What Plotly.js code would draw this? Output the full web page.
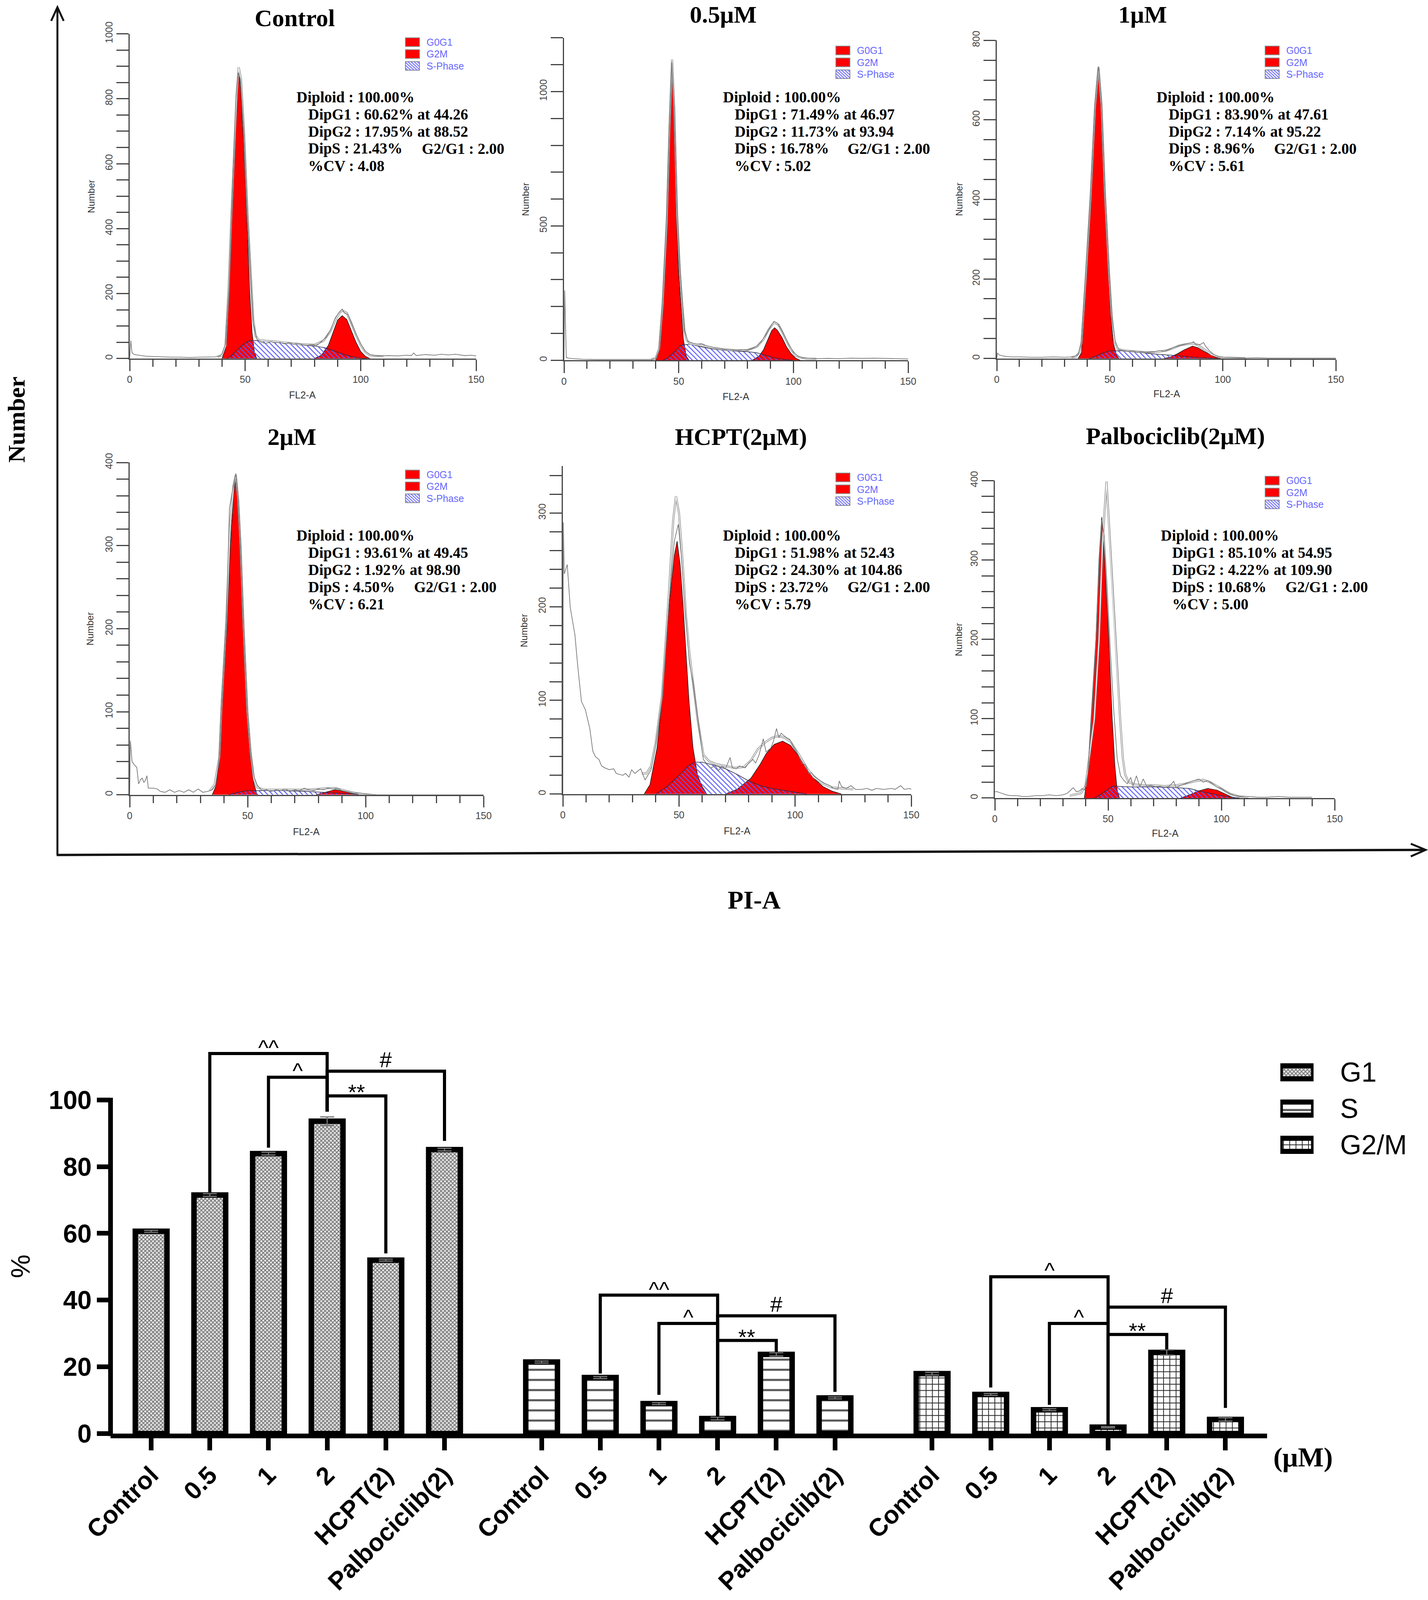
<!DOCTYPE html>
<html><head><meta charset="utf-8">
<script src="https://cdn.plot.ly/plotly-3.0.1.min.js"></script>
<style>html,body{margin:0;padding:0;background:#fff;overflow:hidden}</style>
</head><body><div id="chart"></div>
<script>
// ================= HISTOGRAM DATA =================
// Control
const ctrlG1 = [[40,0],[41.5,30],[42.7,200],[44,420],[45,600],[46.3,800],[47.2,890],[48,830],[49,700],[49.7,600],[51,380],[52,200],[53,80],[54,20],[55,0]];
const ctrlG2 = [[80,0],[83,10],[86,40],[88,80],[90,118],[92,132],[94,120],[96,85],[98,50],[100,22],[102,7],[104,0]];
const ctrlS  = [[42,0],[44,8],[47,30],[50,48],[52,55],[56,55],[62,52],[68,48],[74,42],[80,38],[84,34],[88,25],[92,14],[96,6],[100,1],[103,0]];
const ctrlFit = [[38,5],[40,10],[41.5,40],[42.8,210],[44,430],[45,610],[46.3,810],[47.2,897],[48.2,860],[49.5,700],[51,450],[52.5,250],[53.5,120],[54.5,70],[56,56],[62,53],[68,49],[74,44],[80,42],[84,55],[87,85],[89,118],[91,142],[92,148],[94,140],[96,108],[98,72],[100,42],[102,20],[104,10],[106,8],[110,7]];
const ctrlData = [[0,0],[0.5,55],[1,18],[2,12],[4,10],[7,7],[10,6],[14,5],[18,4],[22,4],[26,3],[30,4],[34,5],[37,5],[39,8],[40,14],[41.5,45],[43,220],[44.5,520],[46,800],[47,880],[48,860],[49.5,690],[51,440],[52.5,240],[53.5,110],[55,60],[57,50],[59,46],[61,52],[63,48],[65,50],[67,45],[69,49],[71,44],[73,47],[75,42],[77,41],[79,43],[81,40],[83,52],[85,65],[87,88],[89,125],[90.5,140],[92,152],[93,140],[94.5,135],[96,110],[98,75],[100,45],[102,22],[104,12],[106,9],[108,8],[112,9],[116,8],[120,10],[122,9],[123,17],[124,9],[128,12],[132,10],[135,13],[138,11],[141,13],[145,9],[148,10],[150,8]];
const ctrlText = ['Diploid : 100.00%','DipG1 : 60.62% at 44.26','DipG2 : 17.95% at 88.52','DipS : 21.43%','%CV : 4.08'];

// 0.5 uM
const halfG1 = [[40,0],[41.5,40],[43,200],[44.8,500],[46,850],[47.1,1105],[48,900],[49.1,500],[50,320],[51,200],[52,80],[53.3,15],[54.5,0]];
const halfG2 = [[82,0],[85,15],[87,40],[89,80],[90.5,110],[91.8,121],[93,112],[95,85],[97,50],[99,25],[101,8],[103,0]];
const halfS  = [[43,0],[45,8],[48,30],[51,57],[55,60],[60,50],[65,42],[70,37],[75,34],[80,32],[84,28],[88,18],[92,8],[96,3],[100,0]];
const halfFit = [[38,4],[40,8],[41.5,45],[43,210],[44.8,520],[46,870],[47.1,1120],[48.1,930],[49.3,540],[50.5,330],[51.5,210],[52.5,110],[53.5,75],[55,62],[60,55],[65,46],[70,40],[75,37],[80,38],[84,50],[87,78],[89,112],[91,135],[92,140],[93.5,132],[95,108],[97,72],[99,40],[101,18],[103,10],[106,6],[110,5]];
const halfData = [[0,0],[0.3,260],[1,10],[2,8],[4,6],[8,4],[14,3],[20,3],[26,2],[32,3],[38,3],[40,6],[41.5,40],[43,220],[44.8,540],[46,880],[47,1110],[48,940],[49.3,560],[50.5,340],[51.5,220],[52.5,110],[54,70],[56,64],[58,60],[60,62],[62,54],[64,50],[66,46],[68,44],[70,40],[72,41],[74,38],[76,37],[78,40],[80,38],[82,44],[84,52],[86,70],[88,95],[90,125],[91.5,145],[93,138],[94.5,118],[96,92],[98,58],[100,30],[102,15],[104,9],[107,7],[110,6],[115,7],[120,6],[125,8],[130,7],[135,8],[140,7],[145,6],[150,5]];
const halfText = ['Diploid : 100.00%','DipG1 : 71.49% at 46.97','DipG2 : 11.73% at 93.94','DipS : 16.78%','%CV : 5.02'];

// 1 uM
const oneG1 = [[36,0],[37.5,15],[39.5,200],[41.6,400],[43.5,620],[45,727],[46.3,620],[47.8,400],[49.6,200],[50.5,100],[51.5,40],[53,8],[54,0]];
const oneG2 = [[74,0],[77,4],[80,12],[83,22],[86.6,31],[89,27],[92,17],[95,8],[97,3],[99,0]];
const oneS  = [[41,0],[44,6],[47,14],[50,19],[55,19],[60,17],[65,14],[70,11],[75,9],[80,7],[85,4],[90,2],[95,1],[98,0]];
const oneFit = [[33,3],[35,5],[36.5,15],[37.5,40],[39.5,215],[41.6,415],[43.5,635],[45,732],[46.3,640],[47.8,420],[49.6,220],[50.8,110],[52,45],[53.5,24],[56,20],[60,18],[65,16],[70,16],[75,20],[78,26],[81,33],[84,36],[86.5,38],[89,34],[92,22],[95,10],[98,4],[100,2],[110,1]];
const oneData = [[0,0],[0.3,14],[1,9],[3,6],[6,4],[10,4],[15,3],[20,3],[25,4],[30,3],[34,4],[36,10],[37.5,40],[39.5,220],[41.6,420],[43.5,640],[45,735],[46.3,645],[47.8,425],[49.6,225],[51,100],[52.5,40],[54,22],[56,20],[58,18],[60,19],[62,16],[64,17],[66,15],[68,16],[70,17],[72,20],[74,18],[76,22],[78,27],[80,31],[82,34],[84,37],[86,39],[87,42],[88,36],[90,35],[91.5,40],[92.5,30],[94,20],[96,10],[98,5],[100,3],[105,2],[110,1],[115,2],[120,1],[130,1],[140,1],[150,1]];
const oneText = ['Diploid : 100.00%','DipG1 : 83.90% at 47.61','DipG2 : 7.14% at 95.22','DipS : 8.96%','%CV : 5.61'];

// 2 uM
const twoG1 = [[35,0],[36.5,10],[38,40],[38.9,100],[41.2,200],[42.7,300],[44,360],[45,382],[46,350],[46.8,300],[48.1,200],[49.7,100],[51,50],[52.5,15],[54,0]];
const twoG2 = [[79,0],[83,3],[87,6],[91,4],[95,1],[97,0]];
const twoS  = [[42,0],[46,3],[50,5],[55,5],[65,5],[75,4],[82,3],[88,2],[95,1],[100,0]];
const twoFit = [[34,5],[36,12],[38,45],[39,110],[41,210],[42.5,320],[44,372],[45,385],[46,355],[47,300],[48.3,200],[49.9,100],[51.3,50],[52.7,18],[54,9],[57,6],[62,6],[68,6],[74,6],[80,7],[84,8],[87,8],[90,6],[94,3],[98,1],[102,0]];
const twoData = [[0,0],[0.3,65],[1,40],[2,36],[3,33],[3.8,13],[4.5,18],[5.3,20],[6,15],[6.6,17],[7.3,23],[7.9,8],[10,8],[11.7,7],[13,4],[15,3],[17,6],[19,3],[21,5],[23,3],[25,6],[27,3],[29,7],[31,3],[33,4],[35,6],[36.5,12],[38,45],[39,110],[41,210],[42.3,345],[43.5,365],[45,387],[46,355],[47,300],[48.3,200],[49.9,100],[51.3,50],[52.7,22],[54,12],[56,5],[58,6],[60,4],[62,6],[64,5],[66,7],[68,4],[70,6],[72,5],[74,8],[76,6],[78,5],[80,7],[82,6],[84,8],[86,7],[88,8],[90,5],[92,4],[95,2],[98,2],[100,1],[105,0],[150,0]];
const twoText = ['Diploid : 100.00%','DipG1 : 93.61% at 49.45','DipG2 : 1.92% at 98.90','DipS : 4.50%','%CV : 6.21'];

// HCPT (2 uM)
const hcptG1 = [[35,0],[37.5,10],[40.6,50],[42.7,100],[45.7,200],[48,255],[49.2,270],[50.5,245],[51.8,200],[53,150],[54.3,100],[56,50],[58,20],[60,8],[62,0]];
const hcptG2 = [[70,0],[75,5],[81,17],[85,32],[87.5,43],[91,53],[94.6,56.5],[98,52],[101.7,40],[105,27],[108,17],[112,8],[116,3],[120,0]];
const hcptS  = [[40,0],[45,8],[50,20],[54,30],[56.6,34],[60,34],[65,31],[70,27],[75,21],[80,14],[85,9],[90,6],[95,4],[100,2],[105,0]];
const hcptFit = [[34,22],[36,22],[38,30],[40,55],[42.7,105],[45.7,215],[47.5,292],[48.7,318],[50,300],[51.5,250],[53,190],[54.5,150],[56,120],[58,80],[60.5,42],[63,35],[66,32],[70,30],[74,28],[78,29],[81,36],[84,48],[87,55],[90,60],[93,62],[95.5,60],[98,56],[101.7,42],[105,28],[108,18],[112,11],[116,7],[120,6],[125,5]];
const hcptData = [[0,0],[0.2,290],[0.6,235],[1.9,245],[3.2,199],[5.2,170],[6.4,137],[8,99],[9.7,90],[11.6,70],[12.9,46],[14,40],[15.5,37],[16.7,30],[18,28],[20,26],[21.9,27],[23,22],[25.8,20],[27,22],[28.5,18],[29.6,26],[31,22],[33.5,27],[35.4,15],[37,22],[38,26],[40,52],[42.7,102],[45.7,205],[48,270],[49.7,288],[51,255],[52.5,200],[53.5,170],[54.5,140],[56,120],[58,82],[60.5,37],[62,32],[63.5,28],[65.7,30],[67,25],[68.5,30],[70,27],[72,39],[73,28],[74.7,27],[76,30],[78.5,28],[80,33],[81.8,37],[83,33],[84.5,42],[86.3,59],[87.5,45],[89.5,49],[90.5,55],[92,70],[93,60],[94,65],[95.3,62],[96.5,60],[97.8,58],[99,52],[100.5,46],[101.7,40],[103,33],[104.5,31],[106,22],[107,23],[108,20],[109.4,17],[111,14],[113,11],[115,9],[116.5,6],[118.4,5],[119,14],[120,8],[122,6],[124,9],[126,5],[128.7,5],[131,6],[133,4],[135,6],[138,5],[141.6,6],[143,5],[145.5,9],[147,5],[149.3,6],[150,5]];
const hcptText = ['Diploid : 100.00%','DipG1 : 51.98% at 52.43','DipG2 : 24.30% at 104.86','DipS : 23.72%','%CV : 5.79'];

// Palbociclib (2 uM)
const palG1 = [[39.5,0],[41,30],[42.5,100],[44.6,200],[46,300],[47.2,354],[48.5,300],[50.3,200],[51.8,100],[53,40],[54,10],[55,0]];
const palG2 = [[82,0],[86,4],[90,9],[94,12],[98,10],[101,6],[104,2],[106,0]];
const palS  = [[44,0],[47,5],[50,11],[52,15],[60,14],[70,14],[80,13],[86,12],[90,9],[95,6],[100,3],[105,1],[108,0]];
const palFit = [[33,3],[38,6],[40,15],[42,60],[43.9,100],[46,200],[47.5,320],[49.3,399],[50.5,340],[52,260],[53.2,200],[55.3,100],[56.5,50],[57.5,30],[59,20],[62,17],[66,16],[70,16],[75,15],[80,16],[84,18],[88,21],[92,23],[95,20],[98,15],[101,10],[104,5],[108,2],[112,1]];
const palData = [[0,8],[1,8],[3,6],[5,4],[7,3],[10,3],[12,2],[15,2],[18,3],[21,3],[24,4],[27,3],[30,4],[32,6],[34.6,13],[36,8],[37.5,9],[38.5,12],[39.6,10],[41,30],[42.5,90],[44.5,190],[46,290],[47.2,350],[48.3,330],[49.5,270],[51,185],[52.5,110],[54,50],[55.5,28],[57,22],[58.5,18],[60,26],[61,15],[62.5,28],[64,14],[65.5,24],[67,15],[69,16],[71,14],[73,15],[75,13],[77,15],[79,21],[80,13],[82,16],[84,18],[86,20],[88,22],[90,24],[92,20],[94,22],[96,18],[98,14],[100,12],[102,8],[104,5],[106,3],[108,2],[112,2],[116,1],[120,1],[125,2],[130,1],[135,1],[140,1]];
const palText = ['Diploid : 100.00%','DipG1 : 85.10% at 54.95','DipG2 : 4.22% at 109.90','DipS : 10.68%','%CV : 5.00'];

const histLegend = ['G0G1','G2M','S-Phase'];

// ================= BAR CHART DATA =================
const barCats = ['Control','0.5','1','2','HCPT(2)','Palbociclib(2)'];
const phaseNames = ['G1','S','G2/M'];
const g1Pct  = [60.62, 71.49, 83.90, 93.61, 51.98, 85.10];
const sPct   = [21.43, 16.78, 8.96, 4.50, 23.72, 10.68];
const g2mPct = [17.95, 11.73, 7.14, 1.92, 24.30, 4.22];
const g1Err  = [0.3, 0.4, 0.4, 1.3, 0.3, 0.4];
const sErr   = [0.3, 0.3, 0.3, 0.4, 0.5, 0.3];
const g2mErr = [0.4, 0.3, 0.3, 0.2, 0.8, 0.5];
// significance brackets: [group, fromIdx, toIdx, topY, fromLegEnd, toLegEnd, label]
const brackets = [
  [0,1,3,113.9,72.3,96.5,'^^'],[0,2,3,106.8,85.7,96.5,'^'],[0,3,5,108.6,96.5,87.7,'#'],[0,3,4,101.2,96.5,54.0,'**'],
  [1,1,3,41.5,18.0,5.1,'^^'],[1,2,3,33.0,11.6,5.1,'^'],[1,3,5,35.3,5.1,12.5,'#'],[1,3,4,27.9,5.1,24.4,'**'],
  [2,1,3,47.0,13.8,2.2,'^'],[2,3,5,37.9,2.2,7.7,'#'],[2,2,3,33.0,8.6,2.2,'^'],[2,3,4,29.7,2.2,25.2,'**']
];

// ================= LAYOUT HELPERS =================
// Design coordinates are the 3656 x 4441 reference; everything is placed in paper fractions,
// so the figure fills whatever viewport the page actually gets.
const W = 3656, H = 4441;
const VW = window.innerWidth || W, VH = window.innerHeight || H;
const SY = VH / H;
const chartDiv = document.getElementById('chart');
chartDiv.style.width = VW + 'px';
chartDiv.style.height = VH + 'px';
const PX = x => x / W;
const PY = y => 1 - y / H;
const SERIF = 'Liberation Serif, Times New Roman, serif';
const SANS = 'Liberation Sans, Arial, sans-serif';
const xy = a => ({x: a.map(p => p[0]), y: a.map(p => p[1])});

const panels = [
 {title:'Control', g1:ctrlG1, g2:ctrlG2, s:ctrlS, fit:ctrlFit, data:ctrlData, text:ctrlText,
  xd:[332,1219], yd:[94,995], ymax:1000, ydt:200, ymn:50, tpos:[755,50], leg:[1038,105], tx:[757,787], ty:270, g2x:1078, num:[234,546], fl:[774,1096]},
 {title:'0.5μM', g1:halfG1, g2:halfG2, s:halfS, fit:halfFit, data:halfData, text:halfText,
  xd:[1444,2325], yd:[105,1000], ymax:1200, ydt:500, ymn:100, tpos:[1851,40], leg:[2140,128], tx:[1849,1879], ty:270, g2x:2168, num:[1346,554], fl:[1884,1100]},
 {title:'1μM', g1:oneG1, g2:oneG2, s:oneS, fit:oneFit, data:oneData, text:oneText,
  xd:[2552,3420], yd:[112,995], ymax:800, ydt:200, ymn:50, tpos:[2925,40], leg:[3239,128], tx:[2959,2990], ty:270, g2x:3260, num:[2456,554], fl:[2987,1093]},
 {title:'2μM', g1:twoG1, g2:twoG2, s:twoS, fit:twoFit, data:twoData, text:twoText,
  xd:[332,1238], yd:[1284,2206], ymax:400, ydt:100, ymn:20, tpos:[747,1212], leg:[1038,1305], tx:[757,787], ty:1487, g2x:1058, num:[230,1745], fl:[784,2308]},
 {title:'HCPT(2μM)', g1:hcptG1, g2:hcptG2, s:hcptS, fit:hcptFit, data:hcptData, text:hcptText,
  xd:[1441,2333], yd:[1294,2204], ymax:350, ydt:100, ymn:20, tpos:[1897,1213], leg:[2140,1313], tx:[1849,1879], ty:1487, g2x:2168, num:[1342,1751], fl:[1887,2306]},
 {title:'Palbociclib(2μM)', g1:palG1, g2:palG2, s:palS, fit:palFit, data:palData, text:palText,
  xd:[2547,3417], yd:[1334,2215], ymax:400, ydt:100, ymn:20, tpos:[3009,1211], leg:[3239,1322], tx:[2970,2999], ty:1487, g2x:3289, num:[2454,1776], fl:[2983,2313]}
];

const traces = [];
const layout = {
  width: VW, height: VH, margin: {l:0, r:0, t:0, b:0},
  paper_bgcolor: '#fff', plot_bgcolor: 'rgba(0,0,0,0)', showlegend: false,
  annotations: [], shapes: []
};
const ann = (text, x, y, o) => Object.assign({text, x:PX(x), y:PY(y), xref:'paper', yref:'paper', showarrow:false, xanchor:'center', yanchor:'middle'}, o);

const AX = '#444';
panels.forEach((p, i) => {
  const n = i + 1, sfx = n === 1 ? '' : String(n);
  const xa = 'x' + sfx, ya = 'y' + sfx;
  const common = {xaxis: xa, yaxis: ya, mode: 'lines', hoverinfo: 'skip', type: 'scatter'};
  traces.push(Object.assign({}, common, xy(p.g1), {fill:'tozeroy', fillcolor:'#ff0000', line:{color:'#1a1a1a', width:1.5}}));
  traces.push(Object.assign({}, common, xy(p.g2), {fill:'tozeroy', fillcolor:'#ff0000', line:{color:'#1a1a1a', width:1.5}}));
  traces.push(Object.assign({}, common, xy(p.s), {fill:'tozeroy', fillcolor:'rgba(0,0,0,0)',
     fillpattern:{shape:'\\', fgcolor:'#5a5aff', bgcolor:'rgba(0,0,0,0)', size:9, solidity:0.28}, line:{color:'#2a2a40', width:1.5}}));
  traces.push(Object.assign({}, common, xy(p.fit), {line:{color:'#8c8c8c', width:5}}));
  traces.push(Object.assign({}, common, xy(p.fit), {line:{color:'#ffffff', width:2}}));
  traces.push(Object.assign({}, common, xy(p.data), {line:{color:'#7a7a7a', width:1.8}}));

  layout['xaxis' + sfx] = {domain:[PX(p.xd[0]), PX(p.xd[1])], range:[0,150], anchor: ya,
    showline:true, linecolor:AX, linewidth:3, ticks:'outside', tick0:0, dtick:50, ticklen:32 * SY, tickwidth:3, tickcolor:AX,
    minor:{dtick:10, ticklen:20 * SY, tickwidth:3, tickcolor:AX, ticks:'outside', showgrid:false},
    tickfont:{family:SANS, size:25, color:AX}, showgrid:false, zeroline:false, fixedrange:true};
  layout['yaxis' + sfx] = {domain:[PY(p.yd[1]), PY(p.yd[0])], range:[0,p.ymax], anchor: xa,
    showline:true, linecolor:AX, linewidth:3, ticks:'outside', tick0:0, dtick:p.ydt, ticklen:31, tickwidth:3, tickcolor:AX,
    minor:{dtick:p.ymn, ticklen:31, tickwidth:3, tickcolor:AX, ticks:'outside', showgrid:false},
    tickangle:-90, tickfont:{family:SANS, size:25, color:AX}, showgrid:false, zeroline:false, fixedrange:true};

  layout.annotations.push(ann(p.title, p.tpos[0], p.tpos[1], {font:{family:SERIF, size:62, color:'#000', weight:'bold'}}));
  p.text.forEach((t, k) => {
    layout.annotations.push(ann(t, k === 0 ? p.tx[0] : p.tx[1], p.ty + k * 47.5,
      {xanchor:'left', font:{family:SERIF, size:39, color:'#000', weight:'bold'}}));
  });
  layout.annotations.push(ann('G2/G1 : 2.00', p.g2x, p.ty + 3 * 47.5, {xanchor:'left', font:{family:SERIF, size:39, color:'#000', weight:'bold'}}));
  layout.annotations.push(ann('Number', p.num[0], p.num[1], {textangle:-90, font:{family:SANS, size:24, color:'#333'}}));
  layout.annotations.push(ann('FL2-A', p.fl[0], p.fl[1], {font:{family:SANS, size:25, color:'#333'}}));
  histLegend.forEach((lab, k) => {
    const bx = p.leg[0], by = p.leg[1] + k * 33;
    if (k < 2) {
      layout.shapes.push({type:'rect', xref:'paper', yref:'paper', x0:PX(bx), x1:PX(bx+36), y0:PY(by+24), y1:PY(by),
        fillcolor:'#ff0000', line:{color:'#888', width:2}});
    } else {
      layout.shapes.push({type:'rect', xref:'paper', yref:'paper', x0:PX(bx), x1:PX(bx+36), y0:PY(by+24), y1:PY(by),
        fillcolor:'#eeeeff', line:{color:'#888', width:2}});
      let path = '';
      for (let d = -18; d <= 30; d += 8) {
        const xs = Math.max(bx, bx + d), ys = by + Math.max(0, -d);
        const xe = Math.min(bx + 36, bx + d + 24), ye = by + (xe - (bx + d));
        path += 'M' + PX(xs) + ',' + PY(ys) + 'L' + PX(xe) + ',' + PY(ye);
      }
      layout.shapes.push({type:'path', xref:'paper', yref:'paper', path, line:{color:'#6a6aff', width:2}});
    }
    layout.annotations.push(ann(lab, bx + 52, by + 12, {xanchor:'left', font:{family:SANS, size:25, color:'#6666ff'}}));
  });
});

// big outer axes with arrows
const blk = {color:'#111', width:5};
layout.shapes.push({type:'line', xref:'paper', yref:'paper', x0:PX(147), x1:PX(147), y0:PY(2373), y1:PY(22), line:blk});
layout.shapes.push({type:'path', xref:'paper', yref:'paper', path:
  'M'+PX(131)+','+PY(58)+'L'+PX(147)+','+PY(20)+'L'+PX(163)+','+PY(58), line:blk});
layout.shapes.push({type:'line', xref:'paper', yref:'paper', x0:PX(145), x1:PX(3648), y0:PY(2373), y1:PY(2359), line:{color:'#111', width:6}});
layout.shapes.push({type:'path', xref:'paper', yref:'paper', path:
  'M'+PX(3612)+','+PY(2342)+'L'+PX(3650)+','+PY(2359)+'L'+PX(3612)+','+PY(2377), line:blk});
layout.annotations.push(ann('Number', 42, 1165, {textangle:-90, font:{family:SERIF, size:62, color:'#000', weight:'bold'}}));
layout.annotations.push(ann('PI-A', 1931, 2498, {font:{family:SERIF, size:66, color:'#000', weight:'bold'}}));

// ================= BAR CHART =================
const groupStep = 6.655;
const pos = g => barCats.map((_, i) => g * groupStep + i);
const barSets = [
  {vals:g1Pct, err:g1Err, pat:{shape:'x', fgcolor:'#6a6a6a', bgcolor:'#e6e6e6', size:7, solidity:0.45}},
  {vals:sPct, err:sErr, pat:{shape:'-', fgcolor:'#555', bgcolor:'#ffffff', size:26, solidity:0.2}},
  {vals:g2mPct, err:g2mErr, pat:{shape:'+', fgcolor:'#222', bgcolor:'#ffffff', size:16, solidity:0.22}}
];
barSets.forEach((b, g) => {
  traces.push({type:'bar', name:phaseNames[g], x:pos(g), y:b.vals, width:0.54, xaxis:'x7', yaxis:'y7', hoverinfo:'skip',
    marker:{color:'#fff', pattern:b.pat, line:{color:'#000', width:14}},
    error_y:{type:'data', array:b.err, visible:true, color:'#777', thickness:3, width:18}});
});
layout.xaxis7 = {domain:[PX(283), PX(3244)], range:[-0.692, 19.02], anchor:'y7',
  tickvals:[].concat(pos(0), pos(1), pos(2)), ticktext:[].concat(barCats, barCats, barCats),
  tickangle:-45, tickfont:{family:SANS, size:64, color:'#000', weight:'bold'},
  ticks:'outside', ticklen:34 * SY, tickwidth:12, tickcolor:'#000',
  showline:true, linecolor:'#000', linewidth:12, showgrid:false, zeroline:false, fixedrange:true};
layout.yaxis7 = {domain:[PY(3979), PY(2914)], range:[0,115], anchor:'x7',
  tickvals:[0,20,40,60,80,100], ticks:'outside', ticklen:34, tickwidth:12, tickcolor:'#000',
  tickfont:{family:SANS, size:66, color:'#000', weight:'bold'},
  showline:false, showgrid:false, zeroline:false, fixedrange:true};
layout.shapes.push({type:'line', xref:'paper', yref:'paper', x0:PX(283), x1:PX(283), y0:PY(3986), y1:PY(3047), line:{color:'#000', width:12}});
brackets.forEach(b => {
  const xa = b[0] * groupStep + b[1], xb = b[0] * groupStep + b[2];
  layout.shapes.push({type:'path', xref:'x7', yref:'y7', path:
    'M'+xa+','+b[4]+'L'+xa+','+b[3]+'L'+xb+','+b[3]+'L'+xb+','+b[5], line:{color:'#000', width:8}});
  const ysh = {'^^':-20, '^':-18, '**':-26, '#':-4}[b[6]];
  layout.annotations.push({text:b[6], x:(xa + xb) / 2, y:b[3], xref:'x7', yref:'y7', showarrow:false,
    xanchor:'center', yanchor:'bottom', yshift:ysh * SY, font:{family:SANS, size:56, color:'#000'}});
});
layout.annotations.push(ann('%', 52, 3515, {textangle:-90, font:{family:SANS, size:68, color:'#000'}}));
layout.annotations.push(ann('(μM)', 3336, 4045, {font:{family:SERIF, size:70, color:'#000', weight:'bold'}}));

// bar legend keys
barSets.forEach((b, g) => {
  traces.push({type:'bar', orientation:'h', x:[1], y:[g], base:0, width:0.36, xaxis:'x8', yaxis:'y8', hoverinfo:'skip', cliponaxis:false,
    marker:{color:'#fff', pattern:b.pat, line:{color:'#000', width:13}}});
  layout.annotations.push(ann(phaseNames[g], 3429, 2976 + g * 101, {xanchor:'left', font:{family:SANS, size:70, color:'#000'}}));
});
layout.xaxis8 = {domain:[PX(3278), PX(3363)], range:[0,1], anchor:'y8', visible:false, fixedrange:true};
layout.yaxis8 = {domain:[PY(3228), PY(2926)], range:[2.5,-0.5], anchor:'x8', visible:false, fixedrange:true};

Plotly.newPlot('chart', traces, layout, {staticPlot:true, displayModeBar:false});
</script></body></html>
